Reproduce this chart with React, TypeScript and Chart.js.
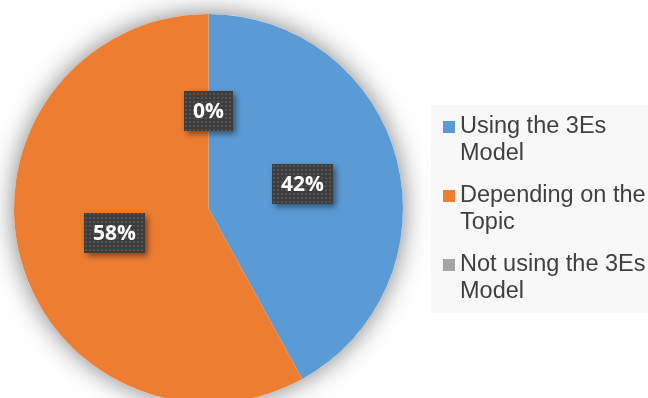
import React, { useEffect, useRef } from "react";
import { Chart, registerables } from "chart.js";

Chart.register(...registerables);

// ---- Data ----
const categoryLines: string[][] = [
  ["Using the 3Es", "Model"],
  ["Depending on the", "Topic"],
  ["Not using the 3Es", "Model"],
];
const categories: string[] = categoryLines.map((l) => l.join(" "));
const values: number[] = [42, 58, 0];
const sliceColors: string[] = ["#5B9BD5", "#ED7D31", "#A5A5A5"];

// ---- Layout constants ----
const W = 648;
const H = 398;
const CANVAS_H = 403;
const LEGEND = { x: 431, y: 105, w: 217, h: 208, swatchX: 443, swatch: 12, textX: 460, firstLine: 126, lineGap: 27, itemGap: 69 };

function makeDotPattern(ctx: CanvasRenderingContext2D) {
  const c = document.createElement("canvas");
  c.width = 4;
  c.height = 4;
  const p = c.getContext("2d")!;
  p.fillStyle = "#3d3d3d";
  p.fillRect(0, 0, 4, 4);
  p.fillStyle = "#535353";
  p.fillRect(1, 1, 2, 2);
  return ctx.createPattern(c, "repeat")!;
}

const pieShadowPlugin = {
  id: "pieShadow",
  beforeDatasetsDraw(chart: any) {
    const meta = chart.getDatasetMeta(0);
    const arc = meta.data[0];
    if (!arc) return;
    const { x, y, outerRadius } = arc.getProps(["x", "y", "outerRadius"], true);
    const ctx: CanvasRenderingContext2D = chart.ctx;
    ctx.save();
    ctx.shadowColor = "rgba(0,0,0,0.5)";
    ctx.shadowBlur = 26;
    ctx.beginPath();
    ctx.arc(x, y, outerRadius, 0, Math.PI * 2);
    ctx.fillStyle = "#ffffff";
    ctx.fill();
    ctx.restore();
  },
};

const labelPlugin = {
  id: "pctLabels",
  afterDatasetsDraw(chart: any) {
    const ctx: CanvasRenderingContext2D = chart.ctx;
    const meta = chart.getDatasetMeta(0);
    const data: number[] = chart.data.datasets[0].data;
    const total = data.reduce((a, b) => a + b, 0);
    const pattern = makeDotPattern(ctx);
    ctx.save();
    ctx.font = 'bold 21px "Open Sans", sans-serif';
    meta.data.forEach((arc: any, i: number) => {
      const { x, y, startAngle, endAngle, outerRadius } = arc.getProps(
        ["x", "y", "startAngle", "endAngle", "outerRadius"],
        true
      );
      const mid = (startAngle + endAngle) / 2;
      const cx = x + Math.cos(mid) * outerRadius * 0.5;
      const cy = y + Math.sin(mid) * outerRadius * 0.5;
      const text = Math.round((data[i] / total) * 100) + "%";
      const tw = ctx.measureText(text).width;
      const bw = Math.round(tw + 18);
      const bh = 40;
      const bx = Math.round(cx - bw / 2);
      const by = Math.round(cy - bh / 2);
      ctx.save();
      ctx.shadowColor = "rgba(0,0,0,0.45)";
      ctx.shadowBlur = 6;
      ctx.shadowOffsetX = 3;
      ctx.shadowOffsetY = 3;
      ctx.fillStyle = "#3d3d3d";
      ctx.fillRect(bx, by, bw, bh);
      ctx.restore();
      ctx.fillStyle = pattern;
      ctx.fillRect(bx, by, bw, bh);
      ctx.fillStyle = "#ffffff";
      ctx.textAlign = "center";
      ctx.textBaseline = "middle";
      ctx.fillText(text, bx + bw / 2, by + bh / 2 + 1);
    });
    ctx.restore();
  },
};

const legendPlugin = {
  id: "boxLegend",
  afterDraw(chart: any) {
    const ctx: CanvasRenderingContext2D = chart.ctx;
    ctx.save();
    ctx.fillStyle = "#f8f8f8";
    ctx.fillRect(LEGEND.x, LEGEND.y, LEGEND.w, LEGEND.h);
    ctx.font = '23.5px "Liberation Sans", Arial, sans-serif';
    ctx.textBaseline = "middle";
    ctx.textAlign = "left";
    categoryLines.forEach((lines, i) => {
      const y0 = LEGEND.firstLine + i * LEGEND.itemGap;
      ctx.fillStyle = sliceColors[i];
      ctx.fillRect(LEGEND.swatchX, y0 - LEGEND.swatch / 2 + 1, LEGEND.swatch, LEGEND.swatch);
      ctx.fillStyle = "#404040";
      lines.forEach((ln, j) => {
        ctx.fillText(ln, LEGEND.textX, y0 + j * LEGEND.lineGap + 1);
      });
    });
    ctx.restore();
  },
};

export default function App() {
  const canvasRef = useRef<HTMLCanvasElement | null>(null);

  useEffect(() => {
    if (!canvasRef.current) return;
    const chart = new Chart(canvasRef.current, {
      type: "pie",
      data: {
        labels: categories,
        datasets: [
          {
            data: values,
            backgroundColor: sliceColors,
            borderWidth: 0,
          },
        ],
      },
      options: {
        responsive: false,
        animation: false,
        events: [],
        layout: { padding: { left: 14, top: 14, right: 245, bottom: 0 } },
        plugins: {
          legend: { display: false },
          tooltip: { enabled: false },
        },
      },
      plugins: [pieShadowPlugin, labelPlugin, legendPlugin],
    });
    return () => chart.destroy();
  }, []);

  return (
    <div
      style={{
        position: "fixed",
        left: 0,
        top: 0,
        width: W,
        height: H,
        overflow: "hidden",
        background: "#ffffff",
      }}
    >
      <canvas ref={canvasRef} width={W} height={CANVAS_H} style={{ display: "block" }} />
    </div>
  );
}
